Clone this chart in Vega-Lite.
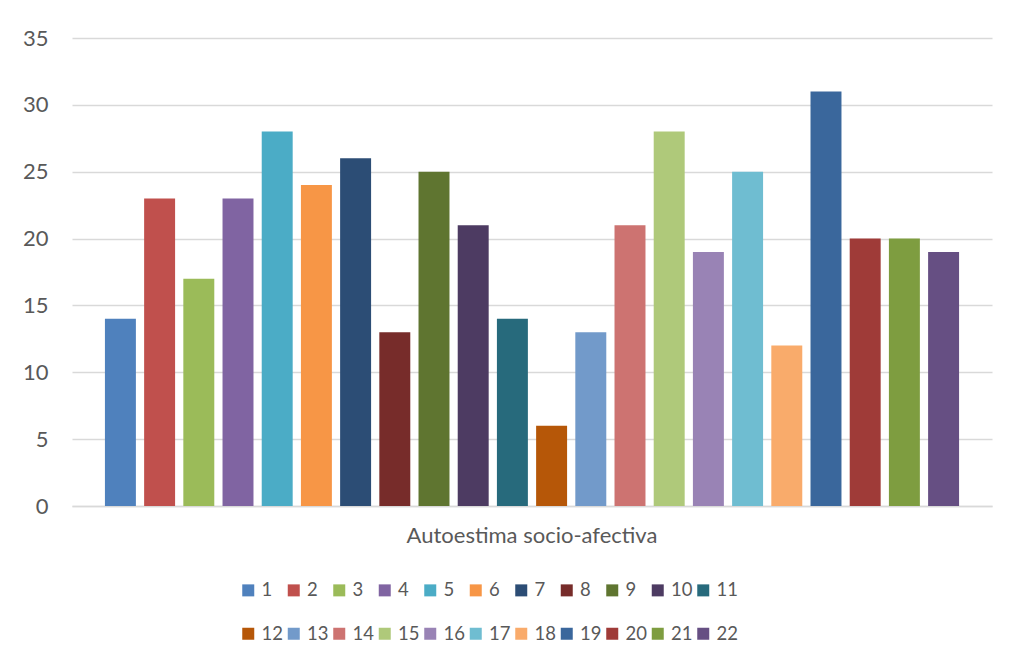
{
  "$schema": "https://vega.github.io/schema/vega-lite/v6.json",
  "width": 920,
  "height": 468,
  "autosize": {"type": "none"},
  "padding": {"left": 72, "top": 38, "right": 22, "bottom": 159},
  "background": "#ffffff",
  "data": {
    "values": [
      {"grupo": "Autoestima socio-afectiva", "n": 1, "valor": 14},
      {"grupo": "Autoestima socio-afectiva", "n": 2, "valor": 23},
      {"grupo": "Autoestima socio-afectiva", "n": 3, "valor": 17},
      {"grupo": "Autoestima socio-afectiva", "n": 4, "valor": 23},
      {"grupo": "Autoestima socio-afectiva", "n": 5, "valor": 28},
      {"grupo": "Autoestima socio-afectiva", "n": 6, "valor": 24},
      {"grupo": "Autoestima socio-afectiva", "n": 7, "valor": 26},
      {"grupo": "Autoestima socio-afectiva", "n": 8, "valor": 13},
      {"grupo": "Autoestima socio-afectiva", "n": 9, "valor": 25},
      {"grupo": "Autoestima socio-afectiva", "n": 10, "valor": 21},
      {"grupo": "Autoestima socio-afectiva", "n": 11, "valor": 14},
      {"grupo": "Autoestima socio-afectiva", "n": 12, "valor": 6},
      {"grupo": "Autoestima socio-afectiva", "n": 13, "valor": 13},
      {"grupo": "Autoestima socio-afectiva", "n": 14, "valor": 21},
      {"grupo": "Autoestima socio-afectiva", "n": 15, "valor": 28},
      {"grupo": "Autoestima socio-afectiva", "n": 16, "valor": 19},
      {"grupo": "Autoestima socio-afectiva", "n": 17, "valor": 25},
      {"grupo": "Autoestima socio-afectiva", "n": 18, "valor": 12},
      {"grupo": "Autoestima socio-afectiva", "n": 19, "valor": 31},
      {"grupo": "Autoestima socio-afectiva", "n": 20, "valor": 20},
      {"grupo": "Autoestima socio-afectiva", "n": 21, "valor": 20},
      {"grupo": "Autoestima socio-afectiva", "n": 22, "valor": 19}
    ]
  },
  "mark": {"type": "bar"},
  "encoding": {
    "x": {
      "field": "grupo",
      "type": "nominal",
      "scale": {"paddingInner": 0, "paddingOuter": 0},
      "axis": {
        "title": null,
        "labelAngle": 0,
        "labelLimit": 600,
        "ticks": false,
        "domainColor": "#D9D9D9",
        "domainWidth": 1.5,
        "labelPadding": 19,
        "labelFontSize": 22,
        "labelColor": "#595959",
        "labelFont": "Lato"
      }
    },
    "xOffset": {
      "field": "n",
      "type": "ordinal",
      "scale": {"paddingInner": 0.21, "paddingOuter": 0.84}
    },
    "y": {
      "field": "valor",
      "type": "quantitative",
      "scale": {"domain": [0, 35], "nice": false},
      "axis": {
        "title": null,
        "values": [0, 5, 10, 15, 20, 25, 30, 35],
        "domain": false,
        "ticks": false,
        "labelPadding": 24,
        "labelFontSize": 22,
        "labelColor": "#595959",
        "labelFont": "Lato",
        "gridColor": "#D9D9D9",
        "gridWidth": 1.5
      }
    },
    "color": {
      "field": "n",
      "type": "ordinal",
      "scale": {
        "domain": [1, 2, 3, 4, 5, 6, 7, 8, 9, 10, 11, 12, 13, 14, 15, 16, 17, 18, 19, 20, 21, 22],
        "range": ["#4F81BD", "#C0504D", "#9BBB59", "#8064A2", "#4BACC6", "#F79646", "#2C4D75", "#772C2A", "#5F7530", "#4D3B62", "#276A7C", "#B65708", "#729ACA", "#CD7371", "#AFC97A", "#9983B5", "#6FBDD1", "#F9AB6B", "#3A679C", "#9F3B38", "#7E9D40", "#664F83"]
      },
      "legend": {
        "title": null,
        "orient": "none",
        "legendX": 167,
        "legendY": 543,
        "direction": "horizontal",
        "columns": 11,
        "padding": 0,
        "symbolType": "square",
        "symbolSize": 144,
        "symbolStrokeWidth": 0,
        "labelFontSize": 18.5,
        "labelFont": "Lato",
        "labelColor": "#595959",
        "labelOffset": 4,
        "columnPadding": 1.5,
        "rowPadding": 24.5
      }
    }
  },
  "config": {
    "view": {"stroke": null}
  }
}
